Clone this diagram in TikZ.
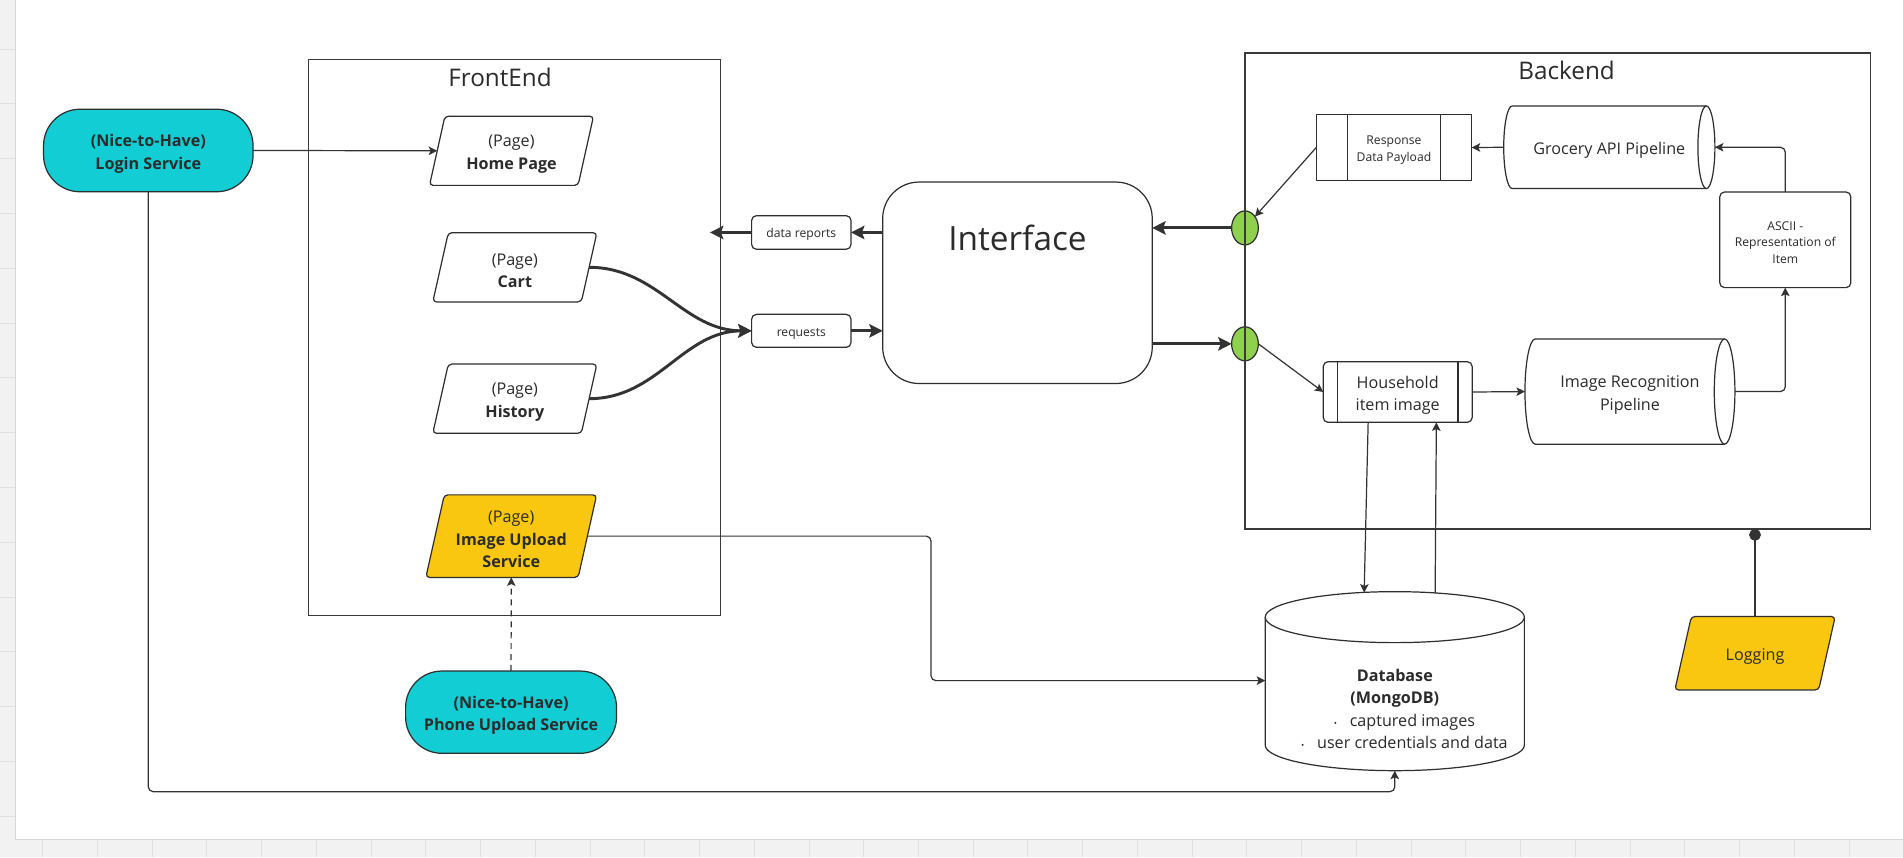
\documentclass[tikz,border=0pt]{standalone}
\usepackage{fontspec}
\setmainfont{Open Sans}
\usetikzlibrary{arrows.meta,calc,shapes.geometric}
\definecolor{ink}{HTML}{333333}
\definecolor{framecol}{HTML}{2E2E2E}
\definecolor{groupcol}{HTML}{3A3A3A}
\definecolor{txt}{HTML}{2B2B2B}
\definecolor{cyanfill}{HTML}{12CDD4}
\definecolor{yellowfill}{HTML}{FAC710}
\definecolor{greenfill}{HTML}{8FD14F}
\definecolor{gridbg}{HTML}{F2F2F2}
\definecolor{gridline}{HTML}{E0E0E0}
\definecolor{gridedge}{HTML}{D6D6D6}
\pgfdeclarelayer{bg}\pgfdeclarelayer{shp}
\pgfsetlayers{bg,shp,main}
\newcommand\up{\rule{0pt}{1.15em}}
\tikzset{
 txtbase/.style={inner sep=0pt, outer sep=0pt, text=txt, align=center, font=\fontsize{13.3}{18.5}\selectfont},
 smalltext/.style={font=\fontsize{10}{13.7}\selectfont},
 stadium/.style={txtbase, draw=framecol, line width=1pt, fill=cyanfill, rounded corners=30pt},
 roundbox/.style={txtbase, draw=framecol, line width=1pt, rounded corners=4pt, fill=white},
 groupframe/.style={draw=groupcol, line width=1pt, inner sep=0pt, outer sep=0pt},
 grouptitle/.style={text=txt, font=\fontsize{20}{24}\selectfont, inner sep=0pt},
 conn/.style={draw=ink, line width=1pt, -{Stealth[length=7pt,width=7pt,inset=1.5pt]}},
 thickconn/.style={draw=ink, line width=2.4pt, -{Stealth[length=11pt,width=11pt,inset=2pt]}},
 greenport/.style={ellipse, draw=framecol, line width=1pt, fill=greenfill, minimum width=22pt, minimum height=28pt, inner sep=0pt, outer sep=0pt},
}
\newcommand\paraframe[3]{%
 \begin{pgfonlayer}{shp}
  \path[draw=framecol, line width=1pt, fill=#3, rounded corners=3pt]
   ([xshift=#2*0.5pt]#1.north west) -- ([xshift=#2*0.5pt]#1.north east) --
   ([xshift=-#2*0.5pt]#1.south east) -- ([xshift=-#2*0.5pt]#1.south west) -- cycle;
 \end{pgfonlayer}}
\newcommand\hcyl[3]{%
 \begin{pgfonlayer}{shp}
  \fill[white] ([xshift=#2pt]#1.south west) arc[start angle=270,end angle=90,x radius=#2pt,y radius=#3pt] -- ([xshift=-#2pt]#1.north east) -- ([xshift=-#2pt]#1.south east) -- cycle;
  \draw[draw=framecol, line width=1pt] ([xshift=-#2pt]#1.north east) -- ([xshift=#2pt]#1.north west) arc[start angle=90,end angle=270,x radius=#2pt,y radius=#3pt] -- ([xshift=-#2pt]#1.south east);
  \draw[draw=framecol, line width=1pt, fill=white] ([xshift=-#2pt]#1.east) ellipse[x radius=#2pt,y radius=#3pt];
 \end{pgfonlayer}}
\newcommand\vcyl[3]{%
 \begin{pgfonlayer}{shp}
  \fill[white] ([yshift=-#3pt]#1.north west) -- ([yshift=#3pt]#1.south west) arc[start angle=180,end angle=360,x radius=#2pt,y radius=#3pt] -- ([yshift=-#3pt]#1.north east) arc[start angle=0,end angle=180,x radius=#2pt,y radius=#3pt] -- cycle;
  \draw[draw=framecol, line width=1pt] ([yshift=-#3pt]#1.north west) -- ([yshift=#3pt]#1.south west) arc[start angle=180,end angle=360,x radius=#2pt,y radius=#3pt] -- ([yshift=-#3pt]#1.north east);
  \draw[draw=framecol, line width=1pt, fill=white] ([yshift=-#3pt]#1.north) ellipse[x radius=#2pt,y radius=#3pt];
 \end{pgfonlayer}}
\newcommand\dbbullet{\hbox to 29pt{\hfil}\llap{{\fontsize{7}{7}\selectfont•}\hspace{10.5pt}}}
\begin{document}
\begin{tikzpicture}[x=1pt,y=-1pt]
\useasboundingbox (0,0) rectangle (1568,706.14);
% background canvas
\begin{pgfonlayer}{bg}
 \fill[white] (0,0) rectangle (1568,706.14);
 \fill[gridbg] (0,0) rectangle (12.4,706.14);
 \fill[gridbg] (0,691.5) rectangle (1568,706.14);
 \foreach \k in {0,...,14} \draw[gridline, line width=0.8pt] (0,40.5+45.15*\k) -- (12.4,40.5+45.15*\k);
 \foreach \k in {0,...,33} \draw[gridline, line width=0.8pt] (35.2+45.1*\k,691.5) -- (35.2+45.1*\k,706.14);
 \draw[gridedge, line width=0.8pt] (12.4,0) -- (12.4,691.5) -- (1568,691.5);
\end{pgfonlayer}

% group frames
\node[groupframe, minimum width=339.4pt, minimum height=457.8pt] (frontend) at (424.1,278.1) {};
\node[grouptitle, anchor=base] (fetitle) at (412,70.9) {FrontEnd};

% frontend nodes
\node[stadium, minimum width=172.6pt, minimum height=68pt] (login) at (122.2,124) {\up\textbf{(Nice-to-Have)}\\\textbf{Login Service}};
\node[txtbase, minimum width=122.4pt, minimum height=57pt] (home) at (421.45,124.25) {\up(Page)\\\textbf{Home Page}};
\paraframe{home}{12.7}{white}
\node[txtbase, minimum width=122.4pt, minimum height=57pt] (cart) at (424.2,220.25) {\up(Page)\\\textbf{Cart}};
\paraframe{cart}{12.8}{white}
\node[txtbase, minimum width=122.4pt, minimum height=57pt] (history) at (424.2,328.5) {\up(Page)\\\textbf{History}};
\paraframe{history}{12.8}{white}
\node[txtbase, minimum width=125.5pt, minimum height=68pt] (upload) at (421.25,441.75) {\up(Page)\\\textbf{Image Upload}\\\textbf{Service}};
\paraframe{upload}{15.2}{yellowfill}
\node[stadium, minimum width=173.8pt, minimum height=67.8pt] (phone) at (421.1,586.8) {\up\textbf{(Nice-to-Have)}\\\textbf{Phone Upload Service}};

% middle
\node[roundbox, smalltext, minimum width=81.9pt, minimum height=27.7pt] (datarep) at (660.25,191.55) {\up data reports};
\node[roundbox, smalltext, minimum width=81.9pt, minimum height=27.2pt] (requests) at (660.25,272.6) {\up requests};
\node[draw=framecol, line width=1pt, rounded corners=30pt, minimum width=222.1pt, minimum height=166pt, inner sep=0pt, outer sep=0pt, fill=white] (interface) at (838.35,233) {};
\node[anchor=base, text=txt, font=\fontsize{27.5}{33}\selectfont, inner sep=0pt] (interfacetitle) at (838.35,206.5) {Interface};

% backend nodes
\node[greenport] (g1) at (1025.8,187.8) {};
\node[greenport] (g2) at (1025.8,283.3) {};
\node[groupframe, minimum width=515.6pt, minimum height=392.2pt] (backend) at (1283.6,239.8) {};
\node[grouptitle, anchor=base] (betitle) at (1290.8,65.4) {Backend};

\node[txtbase, smalltext, draw=framecol, line width=1pt, fill=white, minimum width=128.1pt, minimum height=54.1pt] (response) at (1148.55,121.55) {\up Response\\Data Payload};
\draw[framecol, line width=1pt] ([xshift=25.5pt]response.north west) -- ([xshift=25.5pt]response.south west);
\draw[framecol, line width=1pt] ([xshift=-25.6pt]response.north east) -- ([xshift=-25.6pt]response.south east);

\node[txtbase, minimum width=174pt, minimum height=68.1pt] (grocery) at (1326,121.35) {\up Grocery API Pipeline};
\hcyl{grocery}{7}{34.05}

\node[roundbox, smalltext, minimum width=108pt, minimum height=78.8pt] (ascii) at (1471,197.6) {\up ASCII -\\Representation of\\Item};

\node[roundbox, minimum width=122.7pt, minimum height=50pt] (household) at (1151.65,323) {\up Household\\item image};
\draw[framecol, line width=1pt] ([xshift=11.7pt]household.north west) -- ([xshift=11.7pt]household.south west);
\draw[framecol, line width=1pt] ([xshift=-11.7pt]household.north east) -- ([xshift=-11.7pt]household.south east);

\node[txtbase, minimum width=173pt, minimum height=86.7pt] (imgrec) at (1343,322.65) {\up Image Recognition\\Pipeline};
\hcyl{imgrec}{8.5}{43.35}

% database and logging
\node[inner sep=0pt, outer sep=0pt, minimum width=213.5pt, minimum height=147.5pt] (database) at (1149.25,561.25) {};
\vcyl{database}{106.75}{21}
\node[txtbase] (dbtext) at (1149.25,581.4) {\up\textbf{Database}\\\textbf{(MongoDB)}\\\dbbullet captured images\\\dbbullet user credentials and data};

\node[txtbase, minimum width=118.5pt, minimum height=60.5pt] (logging) at (1446.05,538.25) {\up Logging};
\paraframe{logging}{13.6}{yellowfill}

% connectors
\coordinate (loginrow) at (0,652.3);
\coordinate (uprow) at (767.1,560.8);
\coordinate (feport) at (585,191.55);
\draw[conn] (login.east) -- (home.west);
\draw[conn, rounded corners=4pt] (login.south) -- (login.south |- loginrow) -- (database.south |- loginrow) -- (database.south);
\draw[conn, rounded corners=4pt] (upload.east) -- (upload.east -| uprow) -- (uprow) -- (database.west |- uprow);
\draw[conn, dash pattern=on 5pt off 4pt] (phone.north) -- (upload.south);
\draw[thickconn] (cart.east) to[out=0,in=180] (requests.west);
\draw[thickconn] (history.east) to[out=0,in=180] (requests.west);
\draw[thickconn] (datarep.west) -- (feport);
\draw[thickconn] (interface.west |- datarep.east) -- (datarep.east);
\draw[thickconn] (requests.east) -- (interface.west |- requests.east);
\draw[thickconn] (g1.west) -- (interface.east |- g1.west);
\draw[thickconn] (interface.east |- g2.west) -- (g2.west);
\draw[conn] (response.west) -- (g1);
\draw[conn] (grocery.west) -- (response.east);
\draw[conn, rounded corners=4pt] (ascii.north) -- (ascii.north |- grocery.east) -- (grocery.east);
\draw[conn, rounded corners=4pt] (imgrec.east) -- (imgrec.east -| ascii.south) -- (ascii.south);
\draw[conn] (household.east) -- (imgrec.west);
\draw[conn] (g2.east) -- (household.west);
\draw[conn] ([xshift=-24.35pt]household.south) -- ($(database.north)+(-25.25,0.8)$);
\draw[conn] ($(database.north)+(33.25,1.3)$) -- ([xshift=31.85pt]household.south);
\draw[draw=ink, line width=2.4pt, -{Circle[length=9.6pt,width=9.6pt]}] (logging.north) -- (logging.north |- backend.south);
\end{tikzpicture}
\end{document}
